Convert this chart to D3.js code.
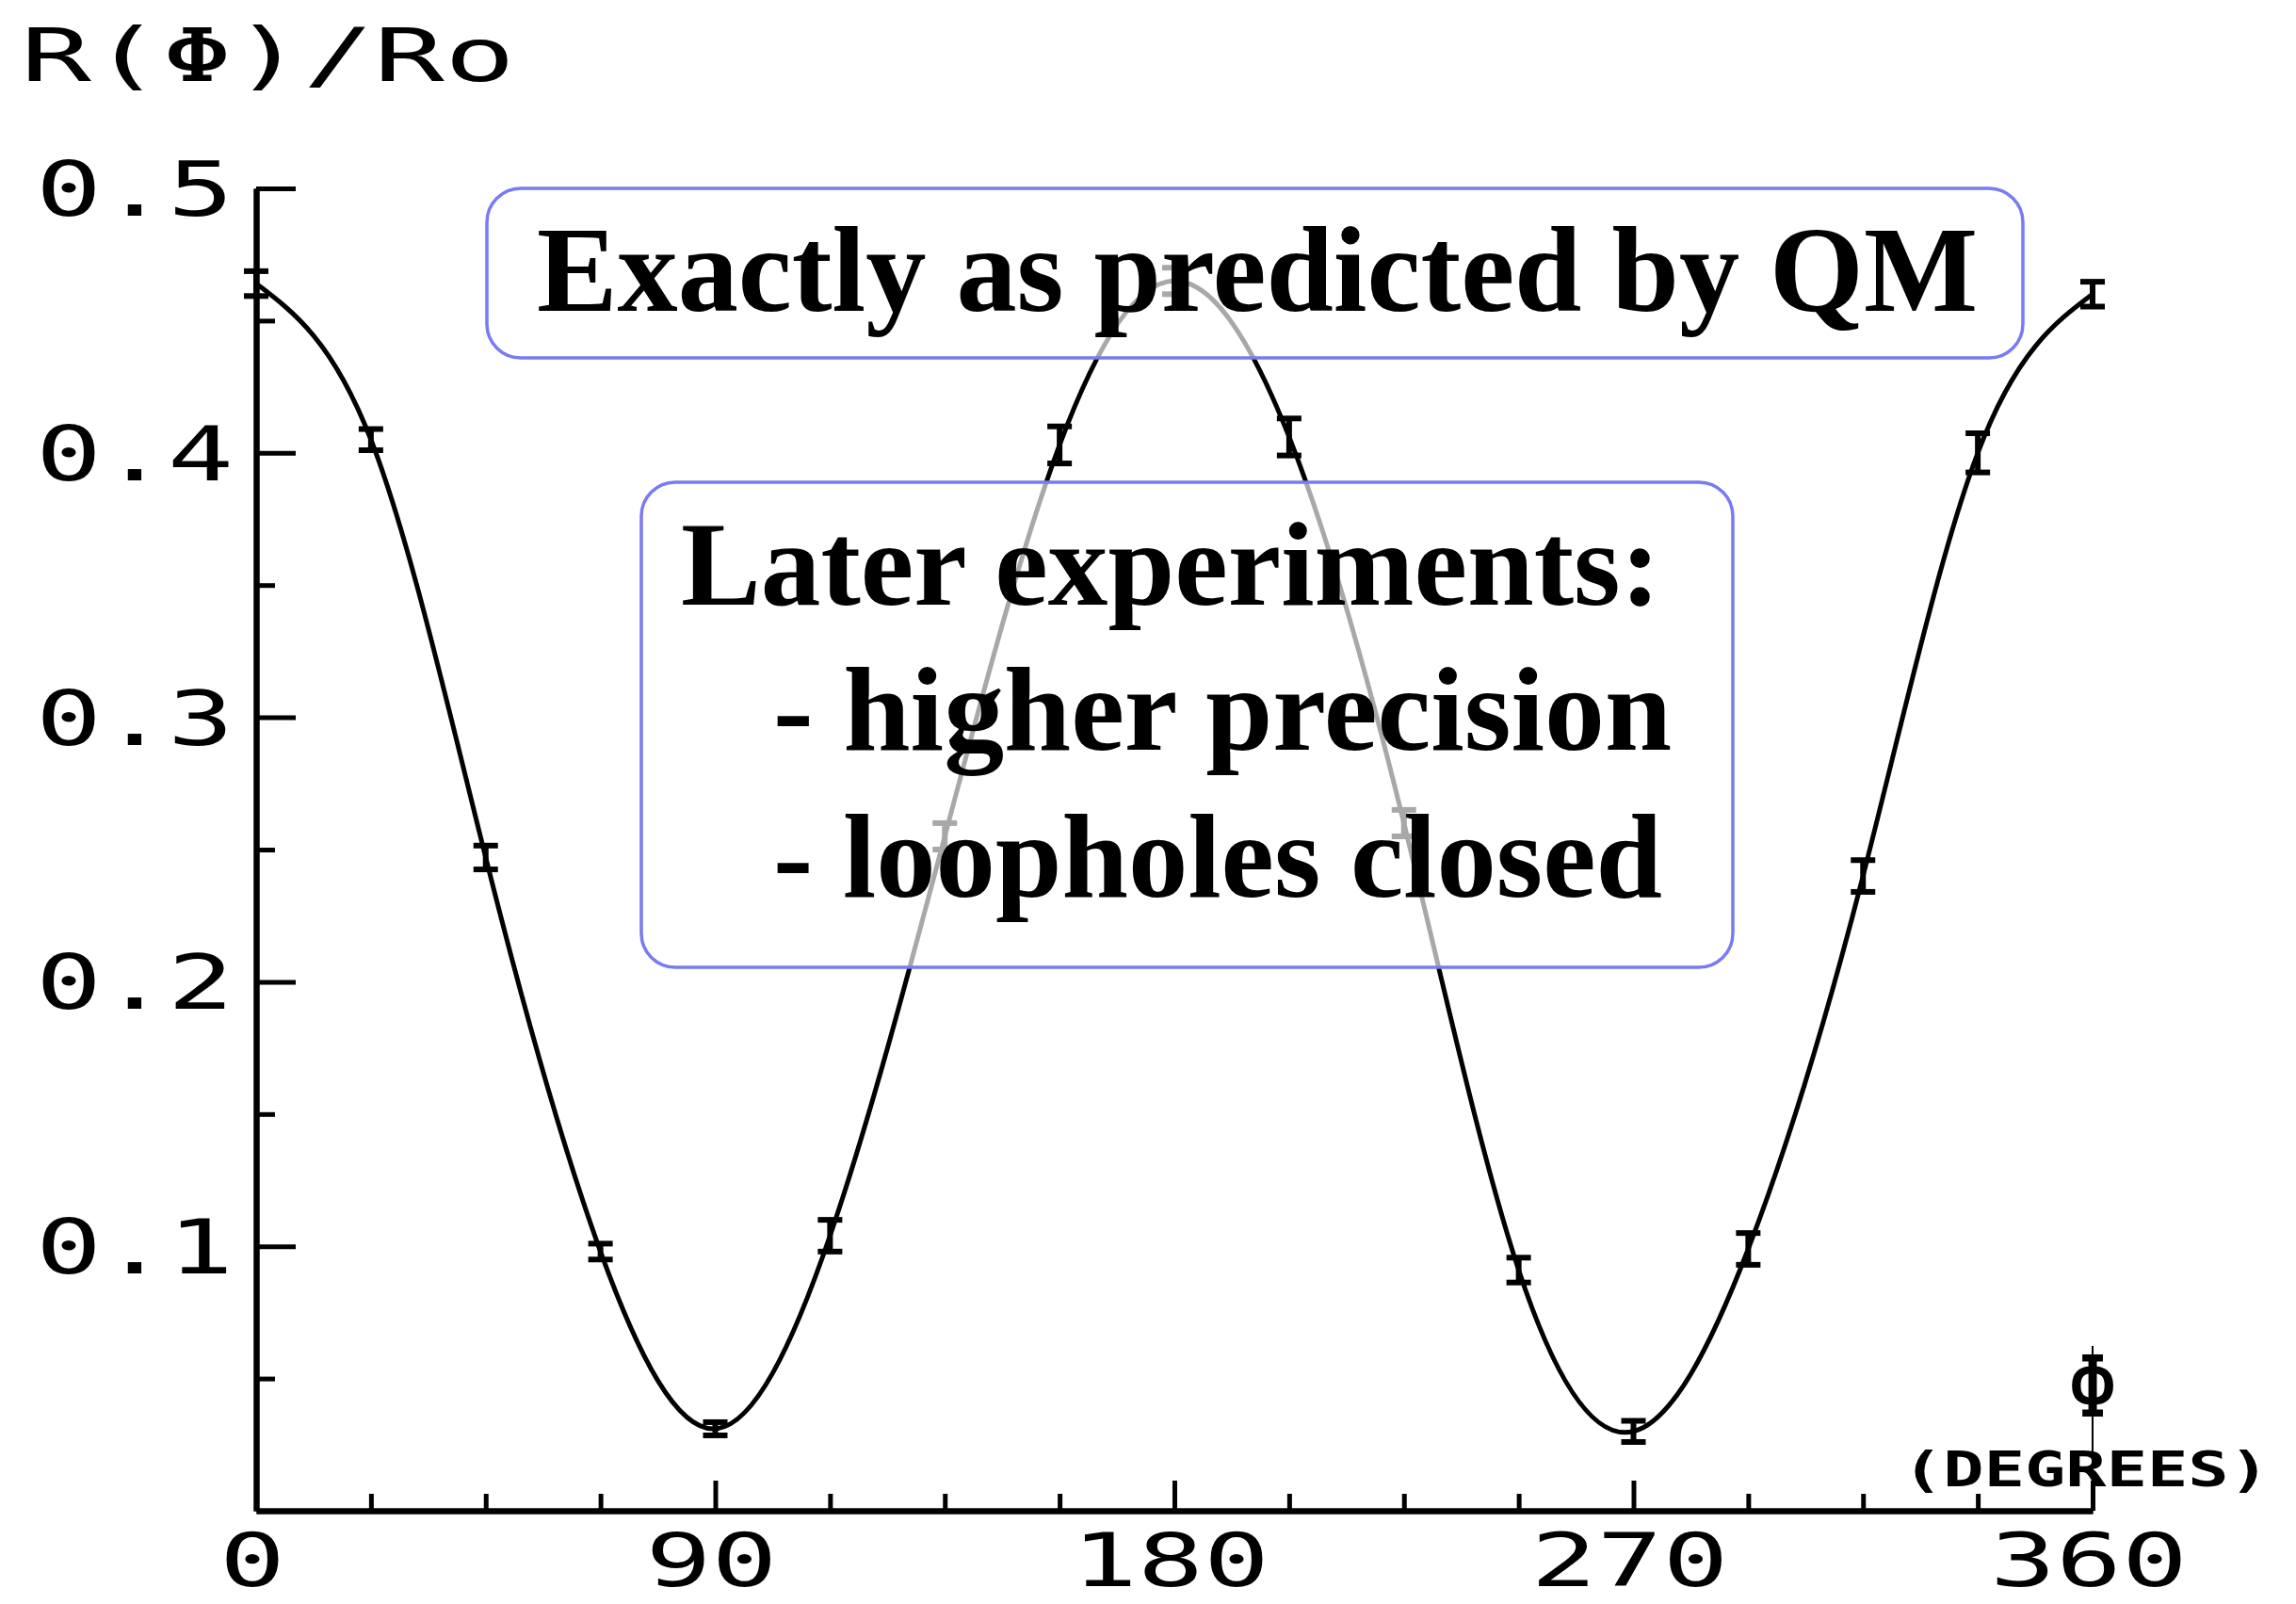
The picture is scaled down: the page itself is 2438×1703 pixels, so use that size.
<!DOCTYPE html>
<html>
<head>
<meta charset="utf-8">
<script src="https://cdn.jsdelivr.net/npm/d3@7"></script>
<style>
  body { margin: 0; background: #fff; }
  .plotter { font-family: 'DejaVu Sans Mono', monospace; fill: #000; }
  .note { font-family: 'Liberation Serif', 'Times New Roman', serif; font-weight: bold; fill: #000; }
  .axis .domain { stroke: #000; stroke-width: 6; }
  .axis .tick line { stroke: #000; stroke-width: 5; }
</style>
</head>
<body>
<div id="chart"></div>
<script>
const angles = [0, 22.5, 45, 67.5, 90, 112.5, 135, 157.5, 180, 202.5, 225, 247.5, 270, 292.5, 315, 337.5, 360];
const ratios = [0.464, 0.405, 0.247, 0.098, 0.031, 0.104, 0.255, 0.403, 0.465, 0.406, 0.260, 0.091, 0.030, 0.099, 0.240, 0.400, 0.460];
const errors = [0.0047, 0.004, 0.0045, 0.003, 0.0025, 0.006, 0.005, 0.007, 0.005, 0.007, 0.005, 0.0047, 0.004, 0.006, 0.006, 0.0074, 0.0047];

const xTicks = [0, 90, 180, 270, 360];
const xTickLabels = ['0', '90', '180', '270', '360'];
const xMinorTicks = [22.5, 45, 67.5, 112.5, 135, 157.5, 202.5, 225, 247.5, 292.5, 315, 337.5];
const yTicks = [0.1, 0.2, 0.3, 0.4, 0.5];
const yTickLabels = ['0.1', '0.2', '0.3', '0.4', '0.5'];
const yMinorTicks = [0.05, 0.15, 0.25, 0.35, 0.45];

const yTitle = 'R(Φ)/Ro';
const xTitle = '(DEGREES)';
const xSymbol = 'Φ';
const topNote = 'Exactly as predicted by QM';
const boxNote = ['Later experiments:', '- higher precision', '- loopholes closed'];

const bellChart = {};

bellChart.create = function(element, state) {
  const { width, height } = state;

  const svg = d3.select(element).append('svg')
    .attr('width', width)
    .attr('height', height);

  svg.append('rect')
    .attr('width', width)
    .attr('height', height)
    .attr('fill', '#fff');

  const scales = this._setScales(state);
  this._drawAxes(svg, scales, state);
  this._drawCurve(svg, scales);
  this._drawNotes(svg);
};

bellChart._setScales = function(state) {
  const { plot } = state;
  const x = d3.scaleLinear().domain([0, 360]).range([plot.left, plot.right]);
  const y = d3.scaleLinear().domain([0, 0.5]).range([plot.bottom, plot.top]);
  return { x, y };
};

bellChart._drawAxes = function(svg, scales, state) {
  const { plot } = state;
  const { x, y } = scales;

  svg.append('g')
    .attr('class', 'axis')
    .attr('transform', 'translate(0,' + plot.bottom + ')')
    .call(d3.axisBottom(x).tickValues(xMinorTicks).tickSize(-18).tickSizeOuter(0).tickFormat(''));

  svg.append('g')
    .attr('class', 'axis')
    .attr('transform', 'translate(0,' + plot.bottom + ')')
    .call(d3.axisBottom(x).tickValues(xTicks.slice(1)).tickSize(-32).tickSizeOuter(0).tickFormat(''));

  svg.append('g')
    .attr('class', 'axis')
    .attr('transform', 'translate(' + plot.left + ',0)')
    .call(d3.axisLeft(y).tickValues(yMinorTicks).tickSize(-20).tickSizeOuter(0).tickFormat(''));

  svg.append('g')
    .attr('class', 'axis')
    .attr('transform', 'translate(' + plot.left + ',0)')
    .call(d3.axisLeft(y).tickValues(yTicks).tickSize(-42).tickSizeOuter(0).tickFormat(''));

  // plotter style labels, stretched sideways like the old pen font
  svg.selectAll('.x-label')
    .data(xTicks)
    .enter()
    .append('text')
    .attr('class', 'plotter x-label')
    .attr('x', (d) => x(d) - 4)
    .attr('y', plot.bottom + 80)
    .attr('text-anchor', 'middle')
    .attr('font-size', 78)
    .attr('textLength', (d, i) => xTickLabels[i].length * 70)
    .attr('lengthAdjust', 'spacingAndGlyphs')
    .text((d, i) => xTickLabels[i]);

  svg.selectAll('.y-label')
    .data(yTicks)
    .enter()
    .append('text')
    .attr('class', 'plotter y-label')
    .attr('x', 38)
    .attr('y', (d) => y(d) + 29)
    .attr('font-size', 80)
    .attr('textLength', (d, i) => yTickLabels[i].length * 70)
    .attr('lengthAdjust', 'spacingAndGlyphs')
    .text((d, i) => yTickLabels[i]);

  svg.append('text')
    .attr('class', 'plotter')
    .attr('x', 22)
    .attr('y', 86)
    .attr('font-size', 78)
    .attr('textLength', 525)
    .attr('lengthAdjust', 'spacingAndGlyphs')
    .text(yTitle);

  svg.append('line')
    .attr('x1', x(360))
    .attr('x2', x(360))
    .attr('y1', plot.bottom)
    .attr('y2', plot.bottom - 175)
    .attr('stroke', '#000')
    .attr('stroke-width', 2);

  svg.append('text')
    .attr('class', 'plotter')
    .attr('x', x(360))
    .attr('y', plot.bottom - 100)
    .attr('text-anchor', 'middle')
    .attr('font-size', 90)
    .text(xSymbol);

  svg.append('text')
    .attr('class', 'plotter')
    .attr('x', 2020)
    .attr('y', plot.bottom - 26)
    .attr('font-size', 52)
    .attr('font-weight', 'bold')
    .attr('textLength', 390)
    .attr('lengthAdjust', 'spacingAndGlyphs')
    .text(xTitle);
};

bellChart._drawCurve = function(svg, scales) {
  const { x, y } = scales;
  const points = angles.map((a, i) => ({ a, r: ratios[i], e: errors[i] }));

  const line = d3.line()
    .curve(d3.curveNatural)
    .x((d) => x(d.a))
    .y((d) => y(d.r));

  svg.append('path')
    .datum(points)
    .attr('fill', 'none')
    .attr('stroke', '#000')
    .attr('stroke-width', 5)
    .attr('d', line);

  const bars = svg.selectAll('.err')
    .data(points)
    .enter()
    .append('g')
    .attr('class', 'err')
    .attr('stroke', '#000')
    .attr('stroke-width', 6);

  bars.append('line')
    .attr('x1', (d) => x(d.a))
    .attr('x2', (d) => x(d.a))
    .attr('y1', (d) => y(d.r - d.e))
    .attr('y2', (d) => y(d.r + d.e));

  bars.append('line')
    .attr('x1', (d) => x(d.a) - 13)
    .attr('x2', (d) => x(d.a) + 13)
    .attr('y1', (d) => y(d.r + d.e))
    .attr('y2', (d) => y(d.r + d.e));

  bars.append('line')
    .attr('x1', (d) => x(d.a) - 13)
    .attr('x2', (d) => x(d.a) + 13)
    .attr('y1', (d) => y(d.r - d.e))
    .attr('y2', (d) => y(d.r - d.e));
};

bellChart._drawNotes = function(svg) {
  const boxes = [
    { x: 517, y: 200, w: 1631, h: 180 },
    { x: 681, y: 512, w: 1159, h: 515 }
  ];

  svg.selectAll('.note-box')
    .data(boxes)
    .enter()
    .append('rect')
    .attr('class', 'note-box')
    .attr('x', (d) => d.x)
    .attr('y', (d) => d.y)
    .attr('width', (d) => d.w)
    .attr('height', (d) => d.h)
    .attr('rx', 36)
    .attr('fill', '#fff')
    .attr('fill-opacity', 0.66)
    .attr('stroke', '#7a7af2')
    .attr('stroke-width', 3.5);

  svg.append('text')
    .attr('class', 'note')
    .attr('x', 570)
    .attr('y', 330)
    .attr('font-size', 130)
    .attr('textLength', 1530)
    .attr('lengthAdjust', 'spacingAndGlyphs')
    .text(topNote);

  const lineX = [723, 821, 821];
  const lineY = [642, 796, 952];
  const lineW = [1040, 954, 944];

  svg.selectAll('.box-line')
    .data(boxNote)
    .enter()
    .append('text')
    .attr('class', 'note box-line')
    .attr('x', (d, i) => lineX[i])
    .attr('y', (d, i) => lineY[i])
    .attr('font-size', 128)
    .attr('textLength', (d, i) => lineW[i])
    .attr('lengthAdjust', 'spacingAndGlyphs')
    .text((d) => d);
};

bellChart.create(document.getElementById('chart'), {
  width: 2438,
  height: 1703,
  plot: { left: 272, right: 2222, top: 200, bottom: 1604 }
});
</script>
</body>
</html>
